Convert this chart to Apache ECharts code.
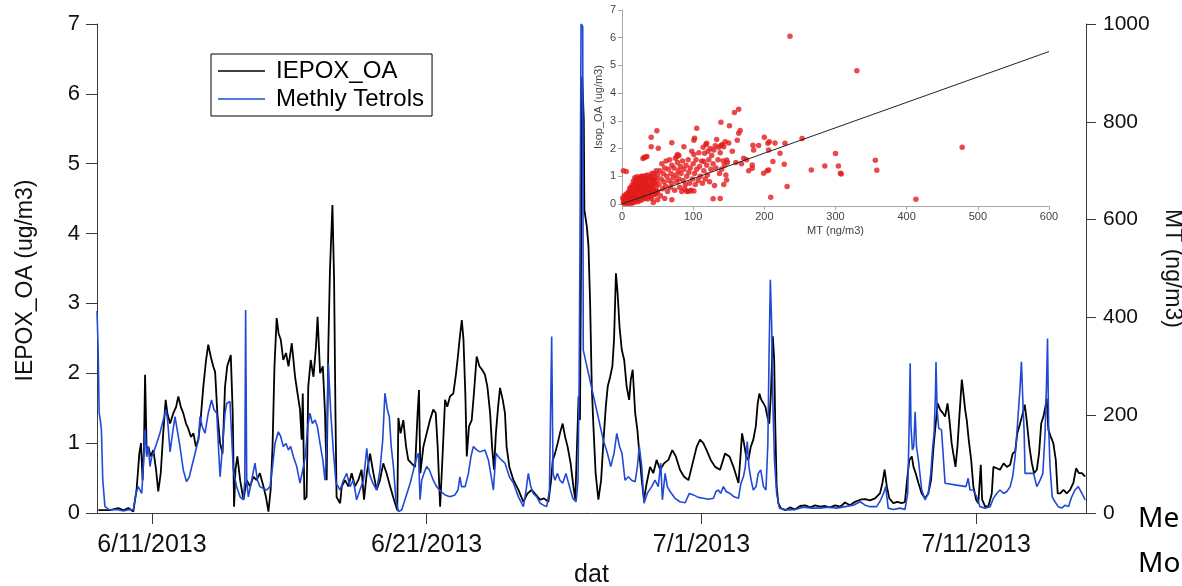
<!DOCTYPE html>
<html>
<head>
<meta charset="utf-8">
<script src="https://cdn.jsdelivr.net/npm/echarts@6/dist/echarts.min.js"></script>
<style>
  html, body { margin: 0; padding: 0; background: #fff; }
  #chart { width: 1182px; height: 586px; }
</style>
</head>
<body>
<div id="chart"></div>
<script>
// Time axis: day number counted from 1 June 2013 (day 31 = 1 July)
const tickDays = [11, 21, 31, 41];
const tickLabels = ['6/11/2013', '6/21/2013', '7/1/2013', '7/11/2013'];

// IEPOX_OA (ug/m3), left axis
const iepoxDay = [
  9.05, 9.47, 9.78, 9.96, 10.14, 10.32, 10.44, 10.54, 10.60, 10.66, 10.71, 10.75, 10.81, 10.87, 10.95,
  11.05, 11.15, 11.23, 11.32, 11.41, 11.50, 11.56, 11.66, 11.78, 11.88, 11.96, 12.05, 12.14, 12.24, 12.32,
  12.42, 12.51, 12.60, 12.69, 12.77, 12.87, 12.97, 13.05, 13.14, 13.23, 13.30, 13.38, 13.48, 13.57, 13.66,
  13.74, 13.87, 13.94, 13.99, 14.04, 14.11, 14.21, 14.33, 14.45, 14.57, 14.69, 14.81, 14.93, 15.06, 15.15,
  15.24, 15.32, 15.39, 15.46, 15.54, 15.61, 15.69, 15.78, 15.88, 15.97, 16.09, 16.21, 16.30, 16.39, 16.45,
  16.49, 16.55, 16.63, 16.69, 16.78, 16.88, 16.97, 17.03, 17.12, 17.22, 17.30, 17.36, 17.42, 17.48, 17.57,
  17.63, 17.68, 17.72, 17.85, 17.91, 18.03, 18.15, 18.27, 18.39, 18.51, 18.63, 18.72, 18.82, 18.94, 19.06,
  19.18, 19.30, 19.42, 19.54, 19.67, 19.81, 19.93, 19.97, 20.05, 20.15, 20.25, 20.33, 20.45, 20.58, 20.67,
  20.72, 20.77, 20.88, 21.00, 21.12, 21.24, 21.33, 21.40, 21.49, 21.56, 21.67, 21.75, 21.85, 21.97, 22.07,
  22.15, 22.21, 22.28, 22.34, 22.41, 22.46, 22.54, 22.64, 22.72, 22.82, 22.92, 23.02, 23.12, 23.21, 23.31,
  23.38, 23.45, 23.52, 23.60, 23.67, 23.77, 23.85, 23.91, 24.01, 24.16, 24.34, 24.52, 24.67, 24.82, 24.98,
  25.13, 25.27, 25.43, 25.53, 25.59, 25.67, 25.77, 25.85, 25.95, 26.04, 26.13, 26.24, 26.34, 26.41, 26.53,
  26.58, 26.63, 26.66, 26.72, 26.74, 26.83, 26.89, 26.95, 27.01, 27.07, 27.15, 27.25, 27.35, 27.43, 27.52,
  27.59, 27.68, 27.76, 27.82, 27.89, 27.95, 28.02, 28.10, 28.19, 28.28, 28.37, 28.43, 28.50, 28.59, 28.67,
  28.74, 28.83, 28.91, 29.01, 29.13, 29.25, 29.37, 29.50, 29.64, 29.80, 29.94, 30.07, 30.22, 30.37, 30.53,
  30.68, 30.83, 30.95, 31.07, 31.19, 31.34, 31.50, 31.68, 31.86, 32.02, 32.17, 32.35, 32.43, 32.48, 32.55,
  32.63, 32.71, 32.80, 32.89, 32.98, 33.05, 33.11, 33.18, 33.26, 33.33, 33.40, 33.47, 33.53, 33.60, 33.65,
  33.69, 33.74, 33.80, 33.89, 34.05, 34.23, 34.41, 34.59, 34.77, 34.96, 35.14, 35.32, 35.50, 35.68, 35.87,
  36.05, 36.23, 36.41, 36.59, 36.78, 36.96, 37.14, 37.32, 37.50, 37.59, 37.67, 37.75, 37.84, 37.99, 38.13,
  38.29, 38.41, 38.50, 38.57, 38.66, 38.72, 38.80, 38.90, 39.02, 39.14, 39.26, 39.36, 39.45, 39.52, 39.60,
  39.69, 39.79, 39.87, 39.96, 40.03, 40.11, 40.17, 40.25, 40.32, 40.39, 40.48, 40.54, 40.60, 40.66, 40.73,
  40.82, 40.90, 41.00, 41.08, 41.17, 41.22, 41.33, 41.45, 41.57, 41.63, 41.75, 41.87, 42.00, 42.12, 42.24,
  42.33, 42.42, 42.50, 42.60, 42.70, 42.77, 42.84, 42.94, 43.03, 43.11, 43.21, 43.29, 43.37, 43.45, 43.52,
  43.57, 43.63, 43.72, 43.81, 43.90, 43.97, 44.06, 44.18, 44.30, 44.42, 44.54, 44.64, 44.74, 44.85, 44.97
];
const iepoxVal = [
  0.04, 0.04, 0.07, 0.04, 0.07, 0.02, 0.33, 0.85, 1.00, 0.47, 0.95, 1.98, 0.85, 0.95, 0.81,
  0.90, 0.62, 0.31, 0.57, 1.14, 1.62, 1.43, 1.28, 1.43, 1.52, 1.67, 1.52, 1.43, 1.28, 1.21,
  1.09, 1.14, 0.95, 1.05, 1.33, 1.81, 2.19, 2.41, 2.24, 2.10, 2.02, 1.43, 1.00, 0.85, 1.81,
  2.10, 2.26, 1.43, 0.09, 0.62, 0.81, 0.47, 0.19, 0.47, 0.38, 0.52, 0.47, 0.57, 0.38, 0.23,
  0.02, 0.33, 0.95, 2.10, 2.79, 2.57, 2.48, 2.19, 2.29, 2.10, 2.43, 1.95, 1.71, 1.48, 1.05,
  1.71, 0.19, 0.23, 1.81, 2.19, 1.95, 2.38, 2.81, 2.00, 2.10, 1.43, 0.47, 2.38, 3.48, 4.41,
  3.34, 1.43, 0.23, 0.14, 0.38, 0.47, 0.38, 0.57, 0.38, 0.47, 0.62, 0.19, 0.57, 0.85, 0.57,
  0.33, 0.47, 0.71, 0.57, 0.38, 0.19, 0.04, 1.36, 1.14, 1.33, 0.95, 0.76, 0.71, 0.66, 1.43,
  1.76, 0.57, 0.95, 1.14, 1.33, 1.48, 1.43, 0.95, 0.09, 0.66, 1.62, 1.52, 1.67, 1.71, 2.00,
  2.29, 2.53, 2.76, 2.48, 1.67, 0.81, 1.24, 1.33, 1.71, 2.24, 2.10, 2.05, 1.98, 1.81, 1.43,
  0.95, 0.62, 1.14, 1.52, 1.79, 1.62, 1.43, 0.95, 0.66, 0.47, 0.33, 0.16, 0.28, 0.33, 0.26,
  0.19, 0.21, 0.16, 0.47, 0.76, 0.85, 1.00, 1.14, 1.28, 1.09, 0.95, 0.71, 0.38, 0.19, 1.67,
  1.33, 4.20, 6.25, 5.63, 4.34, 4.10, 3.82, 3.00, 1.81, 1.24, 0.57, 0.19, 0.47, 1.00, 1.52,
  1.81, 1.95, 2.10, 2.48, 3.43, 3.15, 2.67, 2.34, 2.19, 1.81, 1.62, 1.91, 2.05, 1.43, 1.19,
  0.86, 0.47, 0.19, 0.43, 0.66, 0.57, 0.76, 0.62, 0.71, 0.76, 0.90, 0.81, 0.62, 0.52, 0.47,
  0.71, 0.95, 1.05, 1.00, 0.90, 0.76, 0.66, 0.62, 0.85, 0.81, 0.66, 0.43, 0.85, 1.14, 1.00,
  0.81, 0.76, 0.95, 1.05, 1.24, 1.57, 1.71, 1.62, 1.57, 1.52, 1.38, 1.28, 1.71, 2.53, 2.19,
  1.24, 0.38, 0.14, 0.07, 0.04, 0.08, 0.05, 0.10, 0.11, 0.08, 0.11, 0.09, 0.10, 0.08, 0.11,
  0.09, 0.15, 0.11, 0.16, 0.19, 0.20, 0.18, 0.21, 0.28, 0.43, 0.62, 0.38, 0.21, 0.14, 0.16,
  0.14, 0.16, 0.52, 0.76, 0.81, 0.66, 0.57, 0.43, 0.28, 0.21, 0.28, 0.47, 0.95, 1.24, 1.57,
  1.48, 1.43, 1.38, 1.57, 1.33, 1.00, 0.85, 0.66, 0.95, 1.38, 1.91, 1.71, 1.48, 1.33, 1.05,
  0.76, 0.38, 0.19, 0.14, 0.69, 0.19, 0.09, 0.10, 0.28, 0.66, 0.64, 0.62, 0.71, 0.66, 0.69,
  0.85, 0.88, 1.14, 1.28, 1.43, 1.55, 1.33, 0.95, 0.71, 0.57, 0.62, 0.85, 1.28, 1.38, 1.52,
  1.64, 1.19, 1.09, 1.00, 0.76, 0.28, 0.28, 0.33, 0.28, 0.33, 0.43, 0.64, 0.57, 0.57, 0.52
];

// Methyl tetrols (ng/m3), right axis
const mtDay = [
  9.00, 9.04, 9.08, 9.12, 9.16, 9.21, 9.29, 9.47, 9.72, 9.96, 10.20, 10.32, 10.42, 10.50, 10.57,
  10.63, 10.69, 10.75, 10.81, 10.87, 10.93, 10.99, 11.05, 11.17, 11.29, 11.41, 11.51, 11.57, 11.66, 11.75,
  11.84, 11.92, 12.02, 12.14, 12.26, 12.36, 12.45, 12.54, 12.63, 12.69, 12.75, 12.83, 12.93, 13.05, 13.17,
  13.26, 13.36, 13.42, 13.48, 13.57, 13.66, 13.72, 13.84, 13.91, 13.96, 14.08, 14.21, 14.33, 14.38, 14.41,
  14.45, 14.51, 14.63, 14.75, 14.84, 14.93, 15.06, 15.18, 15.30, 15.39, 15.48, 15.60, 15.69, 15.78, 15.88,
  15.97, 16.05, 16.15, 16.27, 16.39, 16.49, 16.58, 16.67, 16.75, 16.84, 16.94, 17.02, 17.12, 17.22, 17.30,
  17.36, 17.42, 17.51, 17.60, 17.70, 17.85, 17.97, 18.09, 18.21, 18.33, 18.45, 18.57, 18.70, 18.82, 18.91,
  19.04, 19.18, 19.30, 19.40, 19.48, 19.57, 19.64, 19.71, 19.79, 19.88, 19.97, 20.09, 20.40, 20.64, 20.70,
  20.76, 20.82, 20.90, 21.00, 21.10, 21.24, 21.36, 21.51, 21.67, 21.85, 22.03, 22.14, 22.21, 22.27, 22.40,
  22.52, 22.61, 22.70, 22.82, 22.94, 23.12, 23.25, 23.33, 23.43, 23.52, 23.61, 23.73, 23.85, 24.01, 24.16,
  24.34, 24.52, 24.62, 24.70, 24.79, 24.88, 25.01, 25.13, 25.25, 25.37, 25.47, 25.51, 25.55, 25.60, 25.67,
  25.76, 25.85, 25.95, 26.07, 26.20, 26.32, 26.44, 26.51, 26.55, 26.58, 26.62, 26.68, 26.70, 27.43, 27.58,
  27.70, 27.82, 27.92, 28.02, 28.11, 28.22, 28.34, 28.46, 28.59, 28.67, 28.74, 28.83, 28.91, 29.03, 29.19,
  29.31, 29.43, 29.52, 29.58, 29.68, 29.76, 29.86, 30.04, 30.22, 30.41, 30.56, 30.71, 30.89, 31.07, 31.25,
  31.44, 31.53, 31.62, 31.70, 31.80, 31.90, 32.04, 32.19, 32.35, 32.44, 32.53, 32.60, 32.67, 32.73, 32.81,
  32.89, 32.99, 33.07, 33.16, 33.26, 33.35, 33.42, 33.46, 33.51, 33.56, 33.60, 33.66, 33.74, 33.84, 34.11,
  34.41, 34.71, 35.02, 35.32, 35.62, 35.93, 36.23, 36.53, 36.78, 36.96, 37.14, 37.38, 37.53, 37.63, 37.71,
  37.80, 37.99, 38.23, 38.41, 38.51, 38.56, 38.60, 38.63, 38.68, 38.73, 38.78, 38.83, 38.90, 39.02, 39.14,
  39.26, 39.35, 39.42, 39.47, 39.52, 39.54, 39.58, 39.64, 39.74, 39.81, 39.87, 40.29, 40.63, 40.71, 40.78,
  40.90, 41.02, 41.14, 41.33, 41.51, 41.63, 41.75, 41.87, 42.00, 42.12, 42.24, 42.33, 42.42, 42.50, 42.55,
  42.60, 42.65, 42.70, 42.75, 42.78, 43.09, 43.21, 43.33, 43.43, 43.51, 43.56, 43.60, 43.64, 43.69, 43.77,
  43.87, 43.99, 44.12, 44.24, 44.36, 44.48, 44.60, 44.72, 44.85, 44.97
];
const mtVal = [
  413, 340, 204, 190, 170, 67, 13, 6, 7, 4, 7, 6, 40, 54, 54,
  40, 102, 170, 115, 136, 95, 115, 122, 142, 163, 190, 211, 190, 125, 163,
  197, 170, 136, 88, 64, 74, 95, 115, 136, 149, 197, 177, 163, 204, 231,
  211, 204, 136, 74, 136, 204, 224, 228, 224, 88, 54, 33, 27, 67, 415,
  67, 33, 67, 102, 67, 54, 50, 47, 54, 95, 142, 166, 156, 136, 142,
  129, 136, 115, 95, 61, 88, 115, 177, 204, 183, 190, 177, 142, 108, 67,
  136, 306, 204, 129, 61, 47, 67, 81, 54, 67, 27, 47, 67, 132, 81,
  61, 47, 88, 149, 245, 211, 197, 136, 95, 27, 3, 6, 61, 115, 122,
  27, 67, 81, 95, 88, 67, 54, 44, 37, 33, 37, 47, 74, 54, 54,
  81, 115, 136, 129, 125, 129, 108, 81, 47, 122, 115, 108, 102, 74, 61,
  33, 13, 47, 81, 54, 40, 33, 20, 16, 13, 47, 204, 361, 81, 67,
  81, 67, 61, 81, 54, 30, 23, 67, 272, 545, 1000, 995, 333, 149, 122,
  95, 122, 163, 136, 122, 67, 74, 67, 64, 95, 136, 95, 20, 40, 54,
  67, 54, 102, 27, 81, 54, 44, 30, 23, 21, 40, 37, 32, 30, 28,
  30, 44, 47, 40, 54, 44, 40, 33, 30, 61, 74, 95, 146, 95, 67,
  47, 54, 81, 88, 54, 47, 142, 313, 477, 381, 231, 108, 40, 10, 6,
  7, 12, 10, 10, 12, 10, 13, 16, 23, 16, 13, 13, 27, 40, 54,
  10, 7, 10, 7, 40, 169, 306, 177, 129, 136, 207, 136, 108, 47, 27,
  40, 81, 136, 163, 245, 309, 211, 173, 170, 173, 61, 57, 54, 71, 47,
  47, 33, 13, 10, 13, 30, 40, 47, 40, 44, 54, 74, 115, 177, 217,
  258, 309, 231, 163, 81, 81, 54, 67, 81, 163, 258, 357, 177, 95, 33,
  23, 13, 10, 16, 13, 33, 47, 54, 40, 27
];

// Inset: Isop_OA (ug/m3) against MT (ng/m3)
const scatterPoints = [
  [1,0.22],[2,0.05],[2,0.14],[3,0.30],[3,0.02],[4,0.12],[4,0.24],[5,0.25],[5,0.08],[6,0.15],[6,0.36],[7,0.18],
  [7,0.04],[8,0.35],[8,0.02],[8,0.22],[9,0.15],[9,0.42],[10,0.28],[10,0.45],[10,0.06],[11,0.10],[11,0.22],[11,0.58],
  [12,0.32],[12,0.55],[12,0.14],[13,0.20],[13,0.02],[13,0.40],[14,0.40],[14,0.05],[14,0.68],[15,0.62],[15,0.30],[15,0.12],
  [16,0.15],[16,0.48],[16,0.82],[17,0.70],[17,0.25],[17,0.05],[18,0.38],[18,0.55],[18,0.95],[19,0.10],[19,0.82],[19,0.30],
  [20,0.45],[20,0.30],[20,0.62],[21,0.65],[21,0.18],[21,0.98],[22,0.52],[22,0.90],[22,0.08],[23,0.35],[23,0.72],[23,0.50],
  [24,0.60],[24,0.20],[24,0.85],[25,0.48],[25,0.95],[25,0.12],[26,0.75],[26,0.30],[26,0.60],[27,0.58],[27,0.40],[27,1.00],
  [28,0.85],[28,0.15],[28,0.50],[29,0.66],[29,1.00],[29,0.28],[30,0.50],[30,0.32],[30,0.80],[31,0.78],[31,0.92],[31,0.45],
  [32,0.60],[32,0.42],[32,0.20],[33,1.02],[33,0.25],[33,0.72],[34,0.70],[34,0.55],[34,0.88],[35,0.88],[35,0.38],[35,0.62],
  [36,0.62],[36,1.05],[36,0.18],[37,0.48],[37,0.80],[38,0.95],[38,0.30],[38,0.66],[39,0.68],[39,0.45],[40,0.55],[40,1.00],
  [40,0.25],[41,0.85],[41,0.40],[42,0.72],[42,0.20],[42,1.10],[43,0.60],[43,0.90],[44,0.90],[44,0.05],[44,0.48],[45,0.50],
  [45,1.10],[45,0.75],[46,0.75],[46,0.35],[47,0.35],[47,0.95],[48,0.62],[48,1.20],[49,0.85],[49,0.45],[50,0.45],[50,1.05],
  [50,0.15],[2,1.20],[6,1.17],[29.5,1.64],[31,1.68],[33,1.70],[35,1.71],[41,2.41],[41,2.07],[49,2.64],[51,2.01],
  [52,0.70],[53,1.20],[54,0.30],[55,0.90],[56,1.45],[57,0.55],[58,1.10],[59,0.80],[60,1.30],[60,0.20],[61,0.65],[62,1.55],
  [63,1.00],[64,0.45],[65,1.25],[66,0.85],[67,1.60],[68,0.60],[69,1.10],[70,1.40],[70,0.75],[70,2.21],[70,0.15],[72,0.95],
  [73,1.30],[74,0.50],[75,1.65],[76,1.05],[77,0.80],[77,1.71],[78,1.50],[78,1.79],[79,1.20],[80,0.90],[80,1.75],[81,0.60],
  [82,1.35],[83,1.10],[84,0.45],[85,1.55],[86,0.85],[87,1.25],[87,2.07],[88,0.55],[89,0.70],[90,1.40],[91,1.00],[91,0.47],
  [92,0.45],[93,1.60],[94,1.15],[95,0.75],[96,1.30],[96,0.47],[97,0.50],[98,1.90],[99,0.90],[100,1.45],[101,0.47],[101,2.30],
  [101,1.79],[102,1.10],[102,2.37],[103,0.70],[104,1.60],[105,1.25],[105,2.73],[107,0.85],[108,1.85],[109,1.35],[110,1.00],[112,1.55],
  [113,0.75],[114,2.05],[115,1.20],[115,1.53],[116,1.83],[117,0.90],[118,2.15],[119,1.40],[119,2.19],[120,1.05],[121,1.90],[122,1.60],
  [123,0.80],[124,2.00],[125,1.25],[126,1.75],[128,1.45],[128,0.19],[129,1.95],[130,0.67],[131,2.10],[132,1.30],[133,2.33],[135,1.60],
  [136,2.05],[137,1.10],[138,1.85],[138,0.20],[139,2.95],[139,2.11],[140,1.25],[141,2.15],[142,1.55],[143,0.70],[143,2.07],[144,1.40],
  [145,2.25],[146,1.05],[147,0.87],[147,1.59],[148,1.50],[150,2.20],[151,2.82],[155,1.90],[158,3.30],[160,1.50],[162,2.30],[164,3.42],
  [164,2.55],[166,2.65],[168,1.45],[171,1.65],[175,1.60],[178,1.20],[183,1.41],[183,1.29],[184,2.12],[185,1.95],[192,2.11],[199,1.11],
  [200,2.41],[204,1.20],[205,2.19],[206,1.95],[206,1.23],[207,2.25],[209,0.24],[212,1.53],[215,2.20],[222,1.83],[228,1.43],[229,2.19],
  [232,0.63],[236,6.05],[253,2.36],[266,1.23],[285,1.37],[300,1.82],[304,1.37],[307,1.11],[308,1.08],[330,4.81],[356,1.58],[358,1.22],
  [413,0.17],[478,2.05]
];
// Least-squares line end points for the inset
const fitLine = [[0, 0.0], [600, 5.5]];

const zip = (xs, ys) => xs.map((x, i) => [x, ys[i]]);

const FONT = '"Liberation Sans", Arial, sans-serif';
const axisDark = { color: '#3a3a3a', width: 1 };
const axisLight = { color: '#a8a8a8', width: 1 };

const chart = echarts.init(document.getElementById('chart'), null, { renderer: 'canvas' });

chart.setOption({
  animation: false,
  backgroundColor: '#ffffff',
  textStyle: { fontFamily: FONT },
  grid: [
    { left: 97, right: 96, top: 24, bottom: 73, outerBoundsMode: 'none', containLabel: false },
    { left: 622, top: 10, width: 427, height: 194, show: true, backgroundColor: '#ffffff', borderWidth: 0,
      outerBoundsMode: 'none', containLabel: false }
  ],
  legend: {
    data: ['IEPOX_OA', 'Methly Tetrols'],
    orient: 'vertical',
    left: 211,
    top: 54,
    icon: 'rect',
    itemWidth: 47,
    itemHeight: 1.6,
    itemGap: 2,
    borderColor: '#000',
    borderWidth: 1,
    borderRadius: 0,
    padding: [4, 8, 4, 7],
    textStyle: { fontFamily: FONT, fontSize: 24, color: '#000', lineHeight: 26, padding: [0, 0, 0, 6] }
  },
  xAxis: [
    {
      type: 'value', gridIndex: 0, min: 9, max: 45,
      axisLine: { show: true, onZero: false, lineStyle: axisDark },
      axisTick: { show: true, inside: false, length: 11, customValues: tickDays, lineStyle: axisDark },
      axisLabel: {
        customValues: tickDays,
        formatter: v => tickLabels[tickDays.indexOf(v)] || '',
        fontFamily: FONT, fontSize: 25, color: '#111', margin: 20
      },
      splitLine: { show: false },
      name: 'dat', nameLocation: 'middle', nameGap: 50,
      nameTextStyle: { fontFamily: FONT, fontSize: 25, color: '#111' }
    },
    {
      type: 'value', gridIndex: 1, min: 0, max: 600, interval: 100, offset: 2,
      axisLine: { show: true, onZero: false, lineStyle: axisLight },
      axisTick: { show: true, length: 4, lineStyle: axisLight },
      axisLabel: { fontFamily: FONT, fontSize: 11, color: '#444', margin: 5 },
      splitLine: { show: false },
      name: 'MT (ng/m3)', nameLocation: 'middle', nameGap: 19,
      nameTextStyle: { fontFamily: FONT, fontSize: 11, color: '#444' }
    }
  ],
  yAxis: [
    {
      type: 'value', gridIndex: 0, position: 'left', min: 0, max: 7, interval: 1,
      axisLine: { show: true, lineStyle: axisDark },
      axisTick: { show: true, inside: false, length: 11, lineStyle: axisDark },
      axisLabel: { fontFamily: FONT, fontSize: 22, color: '#111', margin: 17 },
      splitLine: { show: false },
      name: 'IEPOX_OA (ug/m3)', nameLocation: 'middle', nameRotate: 90, nameGap: 60,
      nameTextStyle: { fontFamily: FONT, fontSize: 23, color: '#111', padding: [0, 24, 0, 0] }
    },
    {
      type: 'value', gridIndex: 0, position: 'right', min: 0, max: 1000, interval: 200,
      axisLine: { show: true, lineStyle: axisDark },
      axisTick: { show: true, inside: false, length: 10, lineStyle: axisDark },
      axisLabel: { fontFamily: FONT, fontSize: 21, color: '#111', margin: 17, formatter: v => String(v) },
      splitLine: { show: false },
      name: 'MT (ng/m3)', nameLocation: 'middle', nameRotate: -90, nameGap: 66,
      nameTextStyle: { fontFamily: FONT, fontSize: 23, color: '#111' }
    },
    {
      type: 'value', gridIndex: 1, min: 0, max: 7, interval: 1,
      axisLine: { show: true, lineStyle: axisLight },
      axisTick: { show: true, length: 4, lineStyle: axisLight },
      axisLabel: { fontFamily: FONT, fontSize: 11, color: '#444', margin: 6 },
      splitLine: { show: false },
      name: 'Isop_OA (ug/m3)', nameLocation: 'middle', nameRotate: 90, nameGap: 18,
      nameTextStyle: { fontFamily: FONT, fontSize: 11, color: '#444' }
    }
  ],
  series: [
    {
      name: 'IEPOX_OA', type: 'line', xAxisIndex: 0, yAxisIndex: 0,
      data: zip(iepoxDay, iepoxVal), symbol: 'none', color: '#000',
      lineStyle: { color: '#000', width: 1.8 }, z: 2
    },
    {
      name: 'Methly Tetrols', type: 'line', xAxisIndex: 0, yAxisIndex: 1,
      data: zip(mtDay, mtVal), symbol: 'none', color: '#2049d6',
      lineStyle: { color: '#2049d6', width: 1.6 }, z: 3
    },
    {
      name: 'Isop_OA vs MT', type: 'scatter', xAxisIndex: 1, yAxisIndex: 2,
      data: scatterPoints, symbol: 'circle', symbolSize: 5.5,
      itemStyle: { color: '#e31b1b' }, z: 4
    },
    {
      name: 'fit', type: 'line', xAxisIndex: 1, yAxisIndex: 2,
      data: fitLine, symbol: 'none', lineStyle: { color: '#222', width: 1 }, z: 5
    }
  ],
  graphic: [
    { type: 'text', left: 1138, top: 505, style: { text: 'Me', font: '28px "Noto Sans", sans-serif', fill: '#000' } },
    { type: 'text', left: 1138, top: 550, style: { text: 'Mo', font: '28px "Noto Sans", sans-serif', fill: '#000' } }
  ]
});
</script>
</body>
</html>
